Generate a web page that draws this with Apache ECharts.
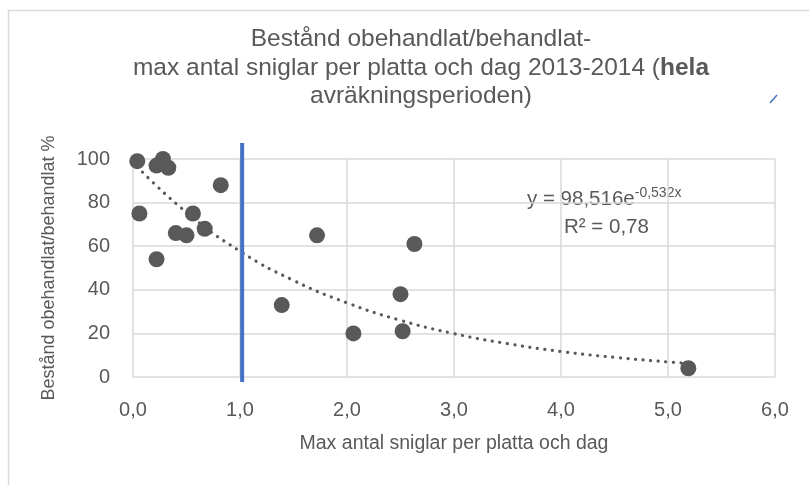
<!DOCTYPE html>
<html>
<head>
<meta charset="utf-8">
<script src="https://cdn.jsdelivr.net/npm/echarts@6/dist/echarts.min.js"></script>
<style>
html,body{margin:0;padding:0;background:#fff;}
#chart{width:809px;height:485px;}
</style>
</head>
<body>
<div id="chart"></div>
<script>
// Data
const snailsX = [0.04, 0.28, 0.22, 0.33, 0.82, 0.06, 0.56, 0.40, 0.50, 0.67, 0.22, 1.39, 1.72, 2.06, 2.63, 2.50, 2.52, 5.19];
const standY  = [99,   100,  97,   96,   88,   75,   75,   66,   65,   68,   54,   33,   65,   20,   61,   38,   21,   4];
// Exponential trendline, points
const trendX = [0.04, 0.5, 1.0, 1.5, 2.0, 2.5, 3.0, 3.5, 4.0, 4.5, 5.0, 5.19];
const trendY = [96.4, 75.5, 57.7, 44.3, 34.0, 26.0, 19.9, 15.3, 11.7, 9.0, 6.9, 6.2];
const refLineX = 1.02;
const xTicks = [0, 1, 2, 3, 4, 5, 6];
const yTicks = [0, 20, 40, 60, 80, 100];
const titleLines = ['Bestånd obehandlat/behandlat-', 'max antal sniglar per platta och dag 2013-2014 (', 'hela', 'avräkningsperioden)'];
const xName = 'Max antal sniglar per platta och dag';
const yName = 'Bestånd obehandlat/behandlat %';
const eqText = 'y = 98,516e';
const eqExp = '-0,532x';
const r2Text = 'R² = 0,78';

const FONT = 'Liberation Sans';
const GREY = '#595959';

const chart = echarts.init(document.getElementById('chart'));
const points = snailsX.map((x, i) => [x, standY[i]]);
const trend = trendX.map((x, i) => [x, trendY[i]]);

chart.setOption({
  animation: false,
  backgroundColor: '#fff',
  textStyle: { fontFamily: FONT },
  title: {
    text: titleLines[0] + '\n' + titleLines[1] + '{b|' + titleLines[2] + '}\n' + titleLines[3],
    left: 416,
    textAlign: 'center',
    top: 20,
    textStyle: {
      fontFamily: FONT, fontSize: 24.5, fontWeight: 'normal', color: GREY, lineHeight: 28.5,
      rich: { b: { fontFamily: FONT, fontSize: 24.5, fontWeight: 'bold', color: GREY, lineHeight: 28.5 } }
    }
  },
  grid: { left: 133, right: 34, top: 159, bottom: 108, containLabel: false },
  xAxis: {
    type: 'value', min: xTicks[0], max: xTicks[xTicks.length - 1], interval: 1,
    name: xName, nameLocation: 'middle', nameGap: 57,
    nameTextStyle: { fontFamily: FONT, fontSize: 19.5, color: GREY },
    axisLine: { show: false }, axisTick: { show: false },
    axisLabel: { margin: 23, fontFamily: FONT, fontSize: 20, color: GREY,
      formatter: v => v.toFixed(1).replace('.', ',') },
    splitLine: { show: true, lineStyle: { color: '#d9d9d9', width: 1.5 } }
  },
  yAxis: {
    type: 'value', min: yTicks[0], max: yTicks[yTicks.length - 1], interval: 20,
    name: yName, nameLocation: 'middle', nameGap: 75,
    nameTextStyle: { fontFamily: FONT, fontSize: 18, color: GREY },
    axisLine: { show: false }, axisTick: { show: false },
    axisLabel: { margin: 23, fontFamily: FONT, fontSize: 20, color: GREY },
    splitLine: { show: true, lineStyle: { color: '#d9d9d9', width: 1.5 } }
  },
  series: [
    {
      type: 'line', data: trend, smooth: true, showSymbol: false, silent: true,
      lineStyle: { color: GREY, width: 3.2, type: [0.1, 7.5], cap: 'round' },
      z: 2
    },
    {
      type: 'custom', silent: true, clip: false, z: 3,
      data: [[refLineX, 0, 100]],
      renderItem: function (params, api) {
        const top = api.coord([api.value(0), api.value(2)]);
        const bot = api.coord([api.value(0), api.value(1)]);
        return {
          type: 'line',
          shape: { x1: top[0], y1: top[1] - 16, x2: bot[0], y2: bot[1] + 5 },
          style: { stroke: '#4472C4', lineWidth: 4 }
        };
      }
    },
    {
      type: 'scatter', data: points, symbol: 'circle', symbolSize: 16,
      itemStyle: { color: GREY, opacity: 1 }, z: 4
    }
  ],
  graphic: [
    { type: 'rect', left: 6, top: 8, shape: { width: 830, height: 500 },
      style: { fill: 'none', stroke: '#d9d9d9', lineWidth: 1.5 }, silent: true, z: -1 },
    { type: 'line', shape: { x1: 770, y1: 103, x2: 777, y2: 95 },
      style: { stroke: '#4472C4', lineWidth: 1.5 }, silent: true },
    { type: 'text', left: 527, top: 186,
      style: { text: '{m|' + eqText + '}{s|' + eqExp + '}', rich: {
        m: { fontFamily: FONT, fontSize: 20.5, fill: GREY, color: GREY },
        s: { fontFamily: FONT, fontSize: 14, fill: GREY, color: GREY, verticalAlign: 'top', padding: [0, 0, 12, 0] }
      } }, silent: true },
    { type: 'text', left: 564, top: 217,
      style: { text: r2Text, font: '20.5px ' + FONT, fill: GREY }, silent: true }
  ]
});
</script>
</body>
</html>
